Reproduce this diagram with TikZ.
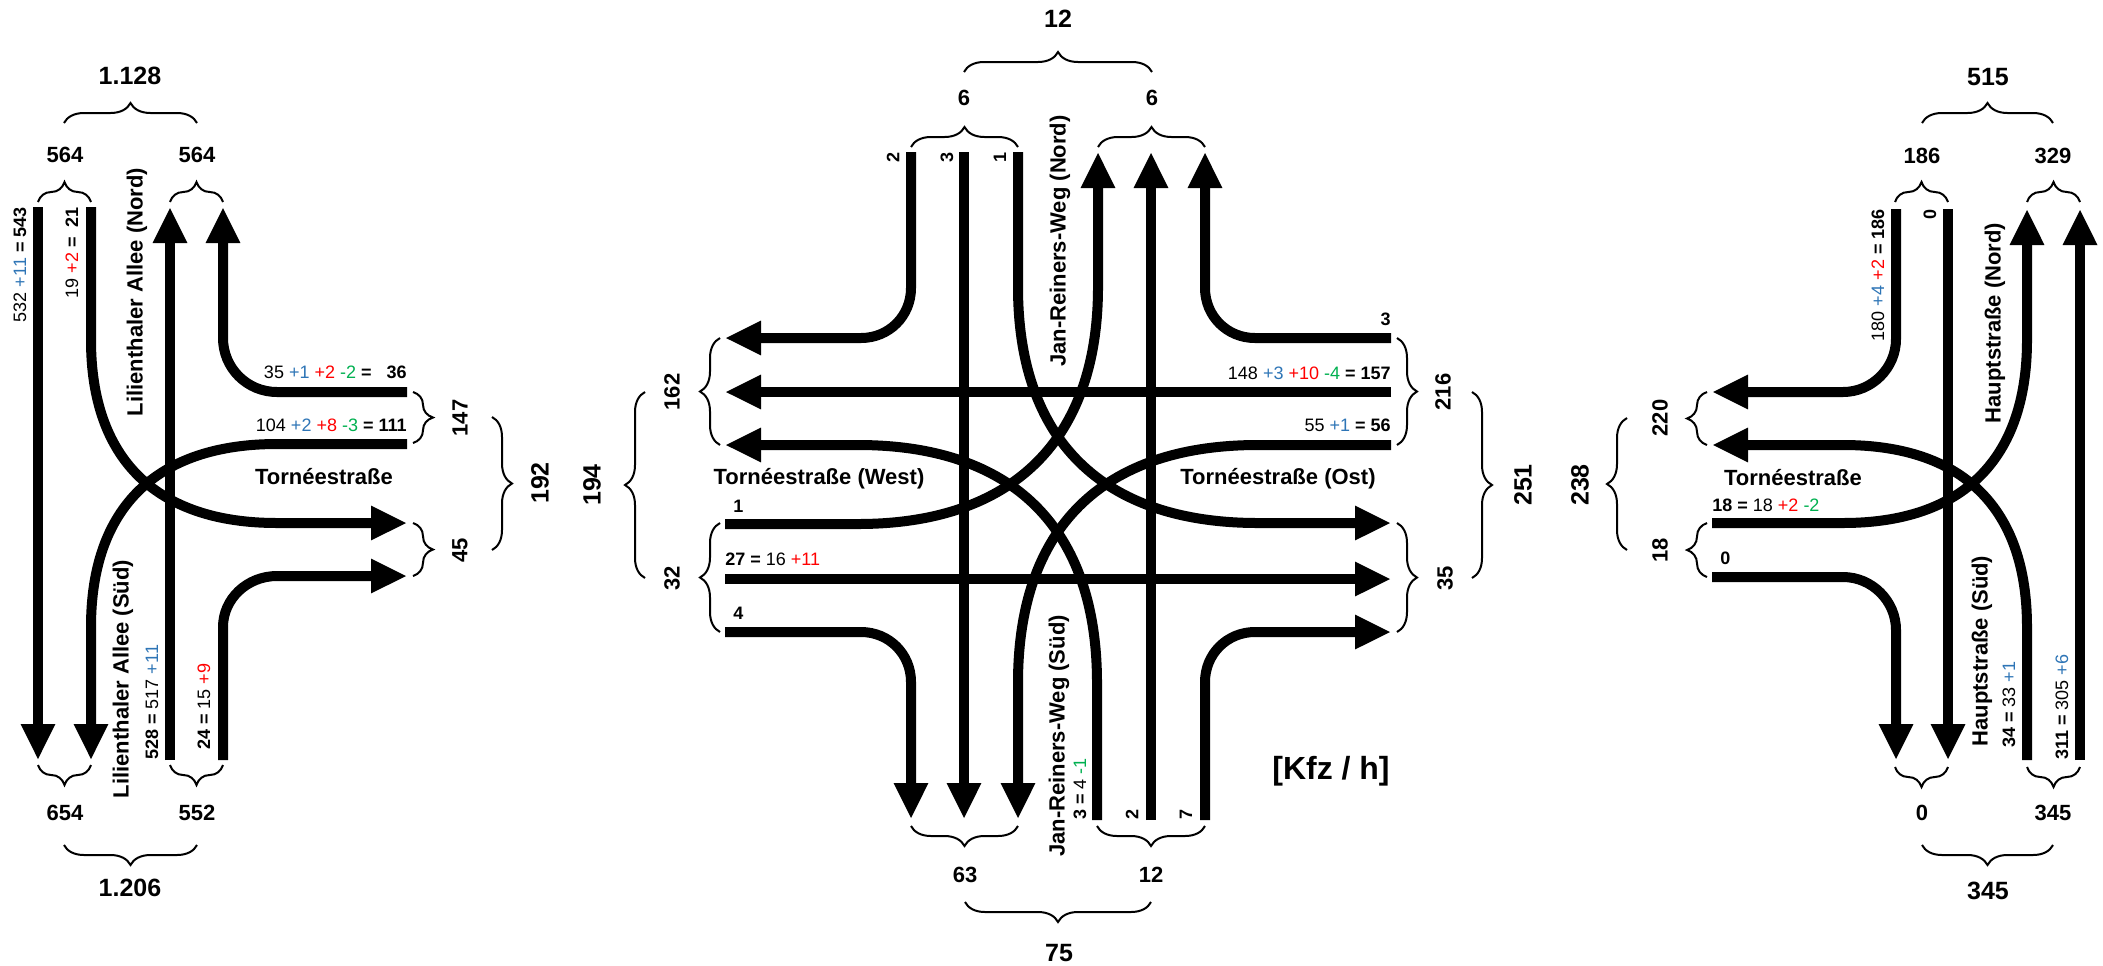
\documentclass[tikz,border=0pt]{standalone}
\usepackage{fontspec}
\setmainfont{Liberation Sans}
\usetikzlibrary{arrows.meta,decorations.pathreplacing}
\definecolor{cblue}{RGB}{46,117,182}
\definecolor{cred}{RGB}{255,0,0}
\definecolor{cgreen}{RGB}{0,176,80}
\newcommand{\blu}[1]{\textcolor{cblue}{#1}}
\newcommand{\rd}[1]{\textcolor{cred}{#1}}
\newcommand{\grn}[1]{\textcolor{cgreen}{#1}}
\tikzset{
 lane/.style={line width=5pt},
 arr/.style={lane,-{Triangle[width=16pt,length=18pt]}},
 brc/.style={decorate,decoration={brace,amplitude=10pt},line width=1pt},
 big/.style={font=\fontsize{12.5}{14}\selectfont\bfseries, inner sep=0pt},
 mid/.style={font=\fontsize{11}{13}\selectfont\bfseries, inner sep=0pt},
 lab/.style={font=\fontsize{9}{11}\selectfont, inner sep=0pt},
 labb/.style={font=\fontsize{9}{11}\selectfont\bfseries, inner sep=0pt},
 road/.style={font=\fontsize{11}{13}\selectfont\bfseries, inner sep=0pt},
}
\begin{document}
\begin{tikzpicture}[x=0.5pt,y=-0.5pt]
\useasboundingbox (0,0) rectangle (2103,965);
% ================= LEFT INTERSECTION =================
\coordinate (LA1) at (38,207);   \coordinate (LA2) at (38,760);
\coordinate (LB1) at (91,207);   \coordinate (LB2) at (407,523);
\coordinate (LC1) at (170,760);  \coordinate (LC2) at (170,207);
\coordinate (LD1) at (407,392);  \coordinate (LD2) at (223,207);
\coordinate (LE1) at (407,444);  \coordinate (LE2) at (91,760);
\coordinate (LF1) at (223,760);  \coordinate (LF2) at (407,576);
\draw[arr] (LA1) -- (LA2);
\draw[arr] (LB1) -- (91,340) .. controls (91,459) and (156,523) .. (277,523) -- (LB2);
\draw[arr] (LC1) -- (LC2);
\draw[arr] (LD1) -- (277,392) .. controls (247,392) and (223,368) .. (223,338) -- (LD2);
\draw[arr] (LE1) -- (277,444) .. controls (156,444) and (91,508) .. (91,627) -- (LE2);
\draw[arr] (LF1) -- (223,627) .. controls (223,599) and (247,576) .. (277,576) -- (LF2);
% braces
\draw[brc] (38,202) -- (91,202);
\draw[brc] (170,202) -- (223,202);
\draw[brc] (64,123) -- (197,123);
\draw[brc] (91,765) -- (38,765);
\draw[brc] (223,765) -- (170,765);
\draw[brc] (197,845) -- (64,845);
\draw[brc] (413,392) -- (413,443);
\draw[brc] (413,523) -- (413,576);
\draw[brc] (492,417) -- (492,550);
% texts
\node[big] (n1128) at (130,76) {1.128};
\node[mid] (n564a) at (65,155) {564};
\node[mid] (n564b) at (197,155) {564};
\node[mid] (n654) at (65,813) {654};
\node[mid] (n552) at (197,813) {552};
\node[big] (n1206) at (130,888) {1.206};
\node[mid,rotate=90] (n147) at (460,418) {147};
\node[mid,rotate=90] (n45) at (460,550) {45};
\node[big,rotate=90] (n192) at (540,483) {192};
\node[lab,rotate=90,anchor=east] (lA) at (20,207) {532 \blu{+11} \textbf{= 543}};
\node[lab,rotate=90,anchor=east] (lB) at (72,207) {19 \rd{+2} \textbf{=\ \ 21}};
\node[road,rotate=90] (rLN) at (137,292) {Lilienthaler Allee (Nord)};
\node[road,rotate=90] (rLS) at (123,679) {Lilienthaler Allee (Süd)};
\node[lab,rotate=90,anchor=west] (lC) at (152,760) {\textbf{528 =} 517 \blu{+11}};
\node[lab,rotate=90,anchor=west] (lF) at (204,750) {\textbf{24 =} 15 \rd{+9}};
\node[lab,anchor=east] (lD) at (407,372) {35 \blu{+1} \rd{+2} \grn{-2} \textbf{=\ \ \ 36}};
\node[lab,anchor=east] (lE) at (407,425) {104 \blu{+2} \rd{+8} \grn{-3} \textbf{= 111}};
\node[road] (rLT) at (324,477) {Tornéestraße};
% ================= MIDDLE INTERSECTION =================
\coordinate (MN1a) at (911,152);  \coordinate (MN1b) at (725,338);
\coordinate (MN2a) at (964,152);  \coordinate (MN2b) at (964,819);
\coordinate (MN3a) at (1018,152); \coordinate (MN3b) at (1391,523);
\coordinate (MS1a) at (1097,820); \coordinate (MS1b) at (725,445);
\coordinate (MS2a) at (1151,820); \coordinate (MS2b) at (1151,152);
\coordinate (MS3a) at (1205,820); \coordinate (MS3b) at (1391,632);
\coordinate (ME1a) at (1391,338); \coordinate (ME1b) at (1205,152);
\coordinate (ME2a) at (1391,392); \coordinate (ME2b) at (725,392);
\coordinate (ME3a) at (1391,445); \coordinate (ME3b) at (1018,819);
\coordinate (MW1a) at (725,524);  \coordinate (MW1b) at (1098,152);
\coordinate (MW2a) at (725,579);  \coordinate (MW2b) at (1391,579);
\coordinate (MW3a) at (725,632);  \coordinate (MW3b) at (911,819);
\draw[arr] (MN1a) -- (911,288) .. controls (911,316) and (889,338) .. (861,338) -- (MN1b);
\draw[arr] (MN2a) -- (MN2b);
\draw[arr] (MN3a) -- (1018,287) .. controls (1018,440) and (1102,523) .. (1258,523) -- (MN3b);
\draw[arr] (MS1a) -- (1097,683) .. controls (1097,528) and (1013,445) .. (858,445) -- (MS1b);
\draw[arr] (MS2a) -- (MS2b);
\draw[arr] (MS3a) -- (1205,682) .. controls (1205,654) and (1227,632) .. (1255,632) -- (MS3b);
\draw[arr] (ME1a) -- (1255,338) .. controls (1227,338) and (1205,316) .. (1205,288) -- (ME1b);
\draw[arr] (ME2a) -- (ME2b);
\draw[arr] (ME3a) -- (1258,445) .. controls (1102,445) and (1018,528) .. (1018,683) -- (ME3b);
\draw[arr] (MW1a) -- (858,524) .. controls (1013,524) and (1098,440) .. (1098,287) -- (MW1b);
\draw[arr] (MW2a) -- (MW2b);
\draw[arr] (MW3a) -- (861,632) .. controls (889,632) and (911,654) .. (911,682) -- (MW3b);
% braces
\draw[brc] (645,578) -- (645,392);
\draw[brc] (720,445) -- (720,338);
\draw[brc] (720,632) -- (720,523);
\draw[brc] (911,147) -- (1018,147);
\draw[brc] (1098,147) -- (1205,147);
\draw[brc] (964,72) -- (1152,72);
\draw[brc] (1018,826) -- (911,826);
\draw[brc] (1205,826) -- (1097,826);
\draw[brc] (1151,902) -- (965,902);
\draw[brc] (1397,338) -- (1397,445);
\draw[brc] (1397,523) -- (1397,632);
\draw[brc] (1472,392) -- (1472,578);
% texts
\node[big,rotate=90] (n194) at (592,485) {194};
\node[mid,rotate=90] (n162) at (672,392) {162};
\node[mid,rotate=90] (n32) at (672,578) {32};
\node[big] (n12t) at (1058,19) {12};
\node[mid] (n6a) at (964,98) {6};
\node[mid] (n6b) at (1152,98) {6};
\node[labb,rotate=90,anchor=east] (mN1) at (893,152) {2};
\node[labb,rotate=90,anchor=east] (mN2) at (947,152) {3};
\node[labb,rotate=90,anchor=east] (mN3) at (1000,152) {1};
\node[road,rotate=90] (rJN) at (1060,241) {Jan-Reiners-Weg (Nord)};
\node[road] (rTW) at (819,479) {Tornéestraße (West)};
\node[road] (rTO) at (1278,479) {Tornéestraße (Ost)};
\node[labb,anchor=west] (mW1) at (733,506) {1};
\node[lab,anchor=west] (mW2) at (725,559) {\textbf{27 =} 16 \rd{+11}};
\node[labb,anchor=west] (mW3) at (733,613) {4};
\node[labb,anchor=east] (mE1) at (1391,319) {3};
\node[lab,anchor=east] (mE2) at (1391,373) {148 \blu{+3} \rd{+10} \grn{-4} \textbf{= 157}};
\node[lab,anchor=east] (mE3) at (1391,425) {55 \blu{+1} \textbf{= 56}};
\node[mid,rotate=90] (n216) at (1443,392) {216};
\node[mid,rotate=90] (n35) at (1445,578) {35};
\node[big,rotate=90] (n251) at (1523,485) {251};
\node[road,rotate=90] (rJS) at (1059,736) {Jan-Reiners-Weg (Süd)};
\node[lab,rotate=90,anchor=west] (mS1) at (1080,820) {\textbf{3 =} 4 \grn{-1}};
\node[labb,rotate=90,anchor=west] (mS2) at (1132,820) {2};
\node[labb,rotate=90,anchor=west] (mS3) at (1186,820) {7};
\node[mid] (n63) at (965,875) {63};
\node[mid] (n12b) at (1151,875) {12};
\node[big] (n75) at (1059,953) {75};
\node[font=\fontsize{16}{18}\selectfont\bfseries, inner sep=0pt] (unit) at (1331,771) {[Kfz / h]};
% ================= RIGHT INTERSECTION =================
\coordinate (RN1a) at (1896,209); \coordinate (RN1b) at (1712,392);
\coordinate (RN2a) at (1948,209); \coordinate (RN2b) at (1948,760);
\coordinate (RW1a) at (1712,523); \coordinate (RW1b) at (2027,209);
\coordinate (RS1a) at (2027,760); \coordinate (RS1b) at (1712,445);
\coordinate (RS2a) at (2080,760); \coordinate (RS2b) at (2080,209);
\coordinate (RW2a) at (1712,577); \coordinate (RW2b) at (1896,760);
\draw[arr] (RN1a) -- (1896,339) .. controls (1896,368) and (1872,392) .. (1843,392) -- (RN1b);
\draw[arr] (RN2a) -- (RN2b);
\draw[arr] (RW1a) -- (1843,523) .. controls (1963,523) and (2027,459) .. (2027,340) -- (RW1b);
\draw[arr] (RS1a) -- (2027,627) .. controls (2027,508) and (1963,445) .. (1843,445) -- (RS1b);
\draw[arr] (RS2a) -- (RS2b);
\draw[arr] (RW2a) -- (1843,577) .. controls (1872,577) and (1896,601) .. (1896,630) -- (RW2b);
% braces
\draw[brc] (1627,550) -- (1627,418);
\draw[brc] (1707,445) -- (1707,392);
\draw[brc] (1707,577) -- (1707,523);
\draw[brc] (1895,202) -- (1948,202);
\draw[brc] (2027,202) -- (2080,202);
\draw[brc] (1922,123) -- (2053,123);
\draw[brc] (1948,767) -- (1895,767);
\draw[brc] (2080,767) -- (2027,767);
\draw[brc] (2053,845) -- (1922,845);
% texts
\node[big,rotate=90] (n238) at (1580,485) {238};
\node[mid,rotate=90] (n220) at (1660,418) {220};
\node[mid,rotate=90] (n18) at (1660,550) {18};
\node[big] (n515) at (1988,77) {515};
\node[mid] (n186) at (1922,156) {186};
\node[mid] (n329) at (2053,156) {329};
\node[lab,rotate=90,anchor=east] (rN1) at (1878,209) {180 \blu{+4} \rd{+2} \textbf{= 186}};
\node[labb,rotate=90,anchor=east] (rN2) at (1930,209) {0};
\node[road,rotate=90] (rHN) at (1995,323) {Hauptstraße (Nord)};
\node[road] (rRT) at (1793,478) {Tornéestraße};
\node[lab,anchor=west] (rW1) at (1712,505) {\textbf{18 =} 18 \rd{+2} \grn{-2}};
\node[labb,anchor=west] (rW2) at (1720,558) {0};
\node[road,rotate=90] (rHS) at (1982,651) {Hauptstraße (Süd)};
\node[lab,rotate=90,anchor=west] (rS1) at (2009,748) {\textbf{34 =} 33 \blu{+1}};
\node[lab,rotate=90,anchor=west] (rS2) at (2062,760) {\textbf{311 =} 305 \blu{+6}};
\node[mid] (n0b) at (1922,813) {0};
\node[mid] (n345a) at (2053,813) {345};
\node[big] (n345b) at (1988,891) {345};
\end{tikzpicture}
\end{document}
